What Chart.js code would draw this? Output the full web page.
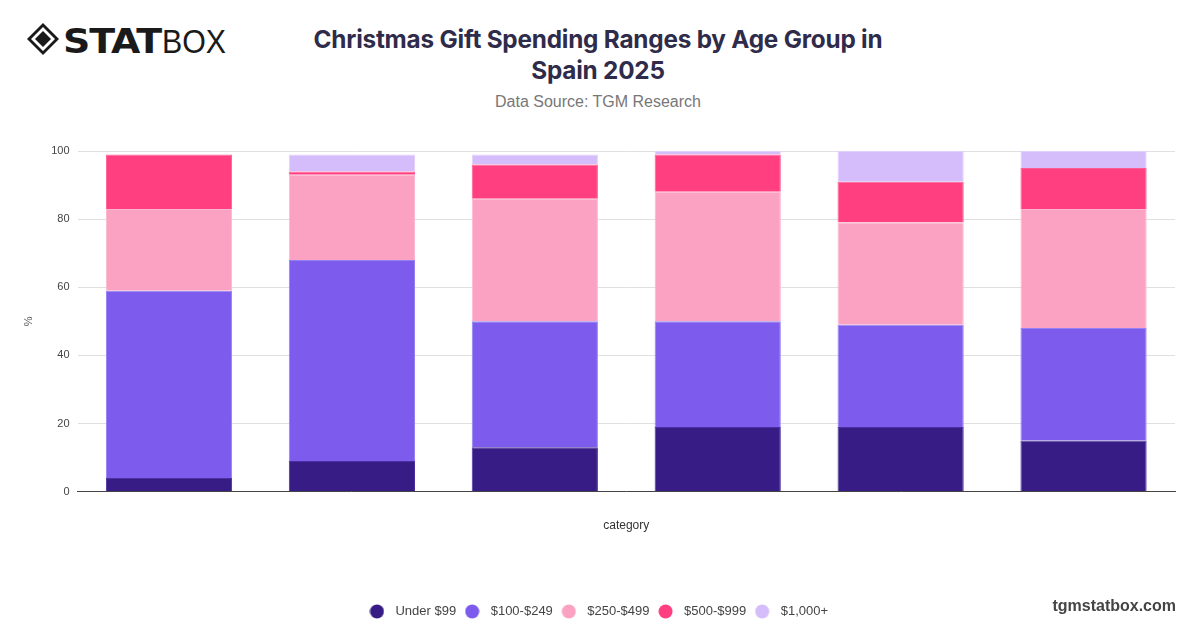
<!DOCTYPE html>
<html>
<head>
<meta charset="utf-8">
<script src="https://cdn.jsdelivr.net/npm/chart.js@4/dist/chart.umd.min.js"></script>
<style>
  html, body { margin:0; padding:0; background:#fff; }
  body { width:1200px; height:628px; position:relative; overflow:hidden; font-family:"Liberation Sans", Arial, sans-serif; }
  #logo { position:absolute; left:26px; top:22px; }
  #title { position:absolute; left:298px; width:600px; top:24px; text-align:center; font-family:Inter, sans-serif; font-weight:700; font-size:24.3px; line-height:31px; color:#2f2b4a; letter-spacing:-0.2px; }
  #subtitle { position:absolute; left:298px; width:600px; top:93px; text-align:center; font-family:"Liberation Sans", Arial, sans-serif; font-size:16px; color:#777; }
  #wrap { position:absolute; left:0; top:130px; width:1200px; height:498px; }
  #brand { position:absolute; right:24px; top:597px; font-family:"Liberation Sans", Arial, sans-serif; font-weight:700; font-size:16px; color:#444; }
</style>
</head>
<body>
<svg id="logo" width="210" height="36" viewBox="0 0 210 36">
  <g fill="#1a1a1a">
    <path d="M17 1 L33 17 L17 33 L1 17 Z M17 5 L5 17 L17 29 L29 17 Z" fill-rule="evenodd"/>
    <path d="M17 9 L25 17 L17 25 L9 17 Z"/>
  </g>
  <text x="37" y="31" font-family="'DejaVu Sans', sans-serif" font-weight="900" font-size="34" fill="#1a1a1a" letter-spacing="-1" textLength="98" lengthAdjust="spacingAndGlyphs">STAT</text>
  <text x="136" y="31" font-family="'Liberation Sans', Arial, sans-serif" font-weight="300" font-size="34" fill="#1a1a1a" textLength="64" lengthAdjust="spacingAndGlyphs">BOX</text>
</svg>
<div id="title">Christmas Gift Spending Ranges by Age Group in<br>Spain 2025</div>
<div id="subtitle">Data Source: TGM Research</div>
<div id="wrap"><canvas id="c"></canvas></div>
<div id="brand">tgmstatbox.com</div>
<script>
const categories = ['', '', '', '', '', ''];
const seriesNames = ['Under $99', '$100-$249', '$250-$499', '$500-$999', '$1,000+'];
const under99 = [4, 9, 13, 19, 19, 15];
const r100_249 = [55, 59, 37, 31, 30, 33];
const r250_499 = [24, 25, 36, 38, 30, 35];
const r500_999 = [16, 1, 10, 11, 12, 12];
const r1000plus = [0, 5, 3, 1, 9, 5];
const yTicks = [0, 20, 40, 60, 80, 100];
const colors = ['#381c85', '#7d5ced', '#fba2c2', '#ff3f80', '#d5bcfb'];
const borders = ['#4a30a0', '#9580f2', '#fdb6cf', '#ff5c93', '#e2d0fc'];

function dot(color) {
  const c = document.createElement('canvas');
  c.width = 15; c.height = 15;
  const g = c.getContext('2d');
  g.fillStyle = color;
  g.beginPath(); g.arc(7.5, 7.5, 7, 0, Math.PI * 2); g.fill();
  return c;
}
const dots = colors.map(dot);

const values = [under99, r100_249, r250_499, r500_999, r1000plus];
const datasets = values.map((v, i) => ({
  label: seriesNames[i],
  data: v,
  backgroundColor: colors[i],
  borderColor: borders[i],
  borderWidth: 1,
  barPercentage: 0.69,
  categoryPercentage: 1.0
}));

Chart.defaults.font.family = '"Liberation Sans", Arial, sans-serif';
new Chart(document.getElementById('c'), {
  type: 'bar',
  data: { labels: categories, datasets },
  options: {
    responsive: true,
    maintainAspectRatio: false,
    animation: false,
    layout: { padding: { left: 18, right: 25, top: 21, bottom: 0 } },
    plugins: {
      legend: {
        position: 'bottom',
        labels: {
          usePointStyle: true, pointStyleWidth: 24, boxHeight: 13, padding: 4, color: '#444', font: { size: 13 },
          generateLabels: (chart) => {
            const items = Chart.defaults.plugins.legend.labels.generateLabels(chart);
            items.forEach((it) => { it.pointStyle = dots[it.datasetIndex]; });
            return items;
          }
        }
      },
      tooltip: { enabled: false }
    },
    scales: {
      x: {
        stacked: true,
        grid: { display: false },
        border: { display: true, color: '#444', width: 1 },
        ticks: { display: false },
        title: { display: true, text: 'category', color: '#333', font: { size: 12 }, padding: { top: 19, bottom: 68 } }
      },
      y: {
        stacked: true,
        min: 0, max: 100,
        afterBuildTicks: (s) => { s.ticks = yTicks.map(v => ({ value: v })); },
        grid: { color: '#e0e0e0', drawTicks: false },
        border: { display: false },
        ticks: { color: '#444', font: { size: 11 }, padding: 8 },
        title: { display: true, text: '%', color: '#555', font: { size: 11 }, padding: { bottom: 8 } }
      }
    }
  }
});
</script>
</body>
</html>
